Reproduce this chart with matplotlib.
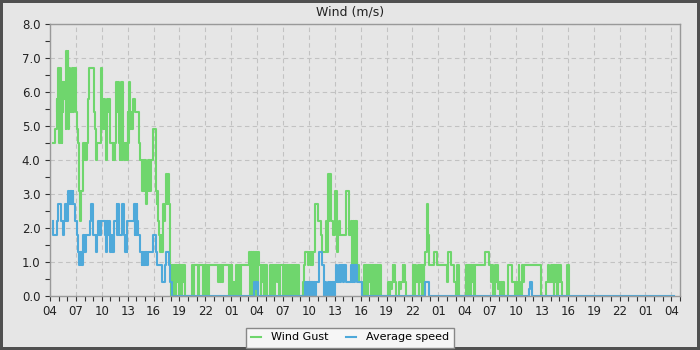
import matplotlib
matplotlib.use("Agg")
import matplotlib.pyplot as plt
from matplotlib.ticker import MultipleLocator, FixedLocator, FormatStrFormatter

# hours since 04:00 on day one, value in m/s (step changes)
gust_day1 = [
    (0.39, 4.5), (0.62, 4.9), (0.77, 5.8), (0.85, 5.4), (0.92, 5.8), (0.97, 6.7),
    (1.10, 4.5), (1.15, 6.7), (1.22, 4.5), (1.30, 4.9), (1.36, 4.5), (1.42, 6.3),
    (1.50, 5.4), (1.56, 6.3), (1.64, 5.8), (1.72, 6.3), (1.80, 4.9), (1.86, 7.2),
    (1.96, 6.7), (2.04, 7.2), (2.10, 4.9), (2.18, 6.7), (2.26, 5.4), (2.34, 6.3),
    (2.42, 5.4), (2.50, 6.7), (2.66, 5.4), (2.76, 6.3), (2.82, 6.7), (3.00, 5.8),
    (3.06, 5.4), (3.16, 4.9), (3.28, 4.5), (3.38, 3.1), (3.50, 2.2), (3.58, 3.1),
    (3.86, 4.5), (3.92, 4.0), (3.98, 4.5), (4.06, 4.0), (4.12, 4.5), (4.20, 4.0),
    (4.28, 4.5), (4.36, 4.9), (4.45, 5.8), (4.52, 6.7), (5.10, 5.4), (5.20, 4.9),
    (5.36, 4.0), (5.50, 4.5), (5.86, 5.4), (5.94, 6.7), (6.04, 5.4), (6.10, 5.8),
    (6.18, 4.9), (6.26, 5.8), (6.34, 4.9), (6.42, 5.4), (6.54, 4.0), (6.66, 5.8),
    (6.76, 5.4), (6.86, 5.8), (7.00, 4.5), (7.26, 4.0), (7.34, 4.5), (7.42, 4.0),
    (7.50, 4.5), (7.70, 6.3), (7.82, 5.4), (7.90, 6.3), (7.98, 4.5), (8.06, 4.0),
    (8.12, 4.5), (8.22, 6.3), (8.30, 4.0), (8.38, 6.3), (8.50, 4.5), (8.56, 4.0),
    (8.64, 4.5), (8.72, 4.0), (8.80, 4.5), (8.90, 4.0), (9.00, 5.4), (9.08, 4.5),
    (9.14, 6.3), (9.24, 5.4), (9.32, 4.9), (9.40, 5.4), (9.50, 4.9), (9.60, 5.8),
    (9.90, 5.4), (10.30, 4.5), (10.40, 4.0), (10.66, 3.1), (10.72, 4.0), (10.80, 3.1),
    (10.88, 4.0), (10.96, 3.1), (11.06, 4.0), (11.14, 2.7), (11.28, 3.1), (11.36, 4.0),
    (11.44, 3.1), (11.52, 4.0), (11.62, 3.1), (11.70, 4.0), (11.96, 4.9), (12.27, 3.1),
    (12.36, 2.7), (12.44, 3.1), (12.56, 2.2), (12.64, 1.8), (12.74, 1.3), (12.82, 1.8),
    (12.90, 1.3), (13.08, 2.7), (13.22, 2.2), (13.30, 2.7), (13.46, 3.6), (13.56, 2.7),
    (13.64, 3.6), (13.80, 2.7), (13.92, 0.9),
]

gust_day2 = [
    (14.05, 0.0), (14.15, 0.9), (14.25, 0.0), (14.35, 0.9), (14.45, 0.0), (14.55, 0.9),
    (14.68, 0.4), (14.80, 0.9), (14.95, 0.0), (15.05, 0.9), (15.20, 0.0), (15.30, 0.9),
    (15.45, 0.4), (15.55, 0.9), (15.62, 0.0), (16.42, 0.9), (16.55, 0.0), (16.65, 0.9),
    (17.19, 0.0), (17.30, 0.9), (17.77, 0.0), (17.85, 0.9), (17.96, 0.0), (18.06, 0.9),
    (18.16, 0.0), (18.26, 0.9), (18.36, 0.0), (18.46, 0.9), (19.50, 0.4), (19.60, 0.9),
    (19.70, 0.4), (19.80, 0.9), (19.90, 0.4), (20.00, 0.9), (20.78, 0.0), (20.88, 0.9),
    (20.96, 0.0), (21.06, 0.9), (21.14, 0.2), (21.24, 0.4), (21.34, 0.0), (21.44, 0.4),
    (21.54, 0.9), (21.64, 0.0), (21.74, 0.9), (21.84, 0.4), (21.94, 0.9), (22.04, 0.0),
    (22.12, 0.9), (23.10, 1.3), (23.20, 0.0), (23.30, 1.3), (23.40, 0.0), (23.50, 1.3),
    (23.60, 0.4), (23.70, 1.3), (23.80, 0.0), (23.90, 1.3), (24.00, 0.0), (24.10, 1.3),
    (24.20, 0.9), (24.40, 0.0), (24.50, 0.9), (24.60, 0.4), (24.70, 0.9), (24.85, 0.0),
    (24.95, 0.9), (25.20, 0.0), (25.50, 0.9), (25.60, 0.0), (25.70, 0.9), (25.80, 0.2),
    (25.90, 0.9), (26.00, 0.0), (26.10, 0.9), (26.30, 0.4), (26.40, 0.9), (26.55, 0.0),
    (26.65, 0.9), (27.00, 0.0), (27.10, 0.9), (27.40, 0.0), (27.50, 0.9), (27.60, 0.0),
    (27.70, 0.9), (27.80, 0.0), (27.90, 0.9), (28.00, 0.0), (28.10, 0.9), (28.20, 0.0),
    (28.30, 0.9), (28.40, 0.0), (28.50, 0.9), (28.60, 0.0), (28.70, 0.9), (28.80, 0.0),
    (29.30, 0.4), (29.45, 0.9), (29.60, 1.3), (29.90, 0.9), (30.00, 1.3), (30.20, 0.9),
    (30.30, 1.3), (30.40, 0.9), (30.50, 1.3), (30.75, 2.7), (31.10, 2.2), (31.40, 1.8),
    (31.52, 1.3), (32.02, 2.2), (32.10, 1.3), (32.20, 3.6), (32.30, 2.2), (32.38, 3.6),
    (32.55, 2.2), (32.75, 1.8), (33.00, 3.1), (33.25, 1.3), (33.35, 1.8), (33.45, 2.2),
    (33.60, 1.8), (34.30, 3.1), (34.60, 1.8), (34.90, 2.2), (35.00, 0.9), (35.10, 2.2),
    (35.25, 0.9), (35.35, 2.2), (35.56, 0.9), (35.80, 0.4), (36.10, 0.0),
]

gust_day3 = [
    (36.40, 0.9), (36.50, 0.0), (36.60, 0.9), (36.75, 0.0), (36.85, 0.9), (37.00, 0.4),
    (37.10, 0.9), (37.20, 0.0), (37.30, 0.9), (37.40, 0.0), (37.50, 0.9), (37.60, 0.0),
    (37.70, 0.9), (37.80, 0.0), (37.90, 0.9), (38.00, 0.0), (38.10, 0.9), (38.30, 0.0),
    (39.20, 0.4), (39.30, 0.0), (39.40, 0.4), (39.50, 0.2), (39.60, 0.4), (39.72, 0.9),
    (39.80, 0.4), (39.90, 0.9), (40.00, 0.4), (40.10, 0.0), (40.49, 0.4), (40.60, 0.2),
    (40.70, 0.4), (40.88, 0.9), (40.95, 0.4), (41.05, 0.9), (41.15, 0.4), (41.27, 0.0),
    (42.04, 0.9), (42.20, 0.0), (42.30, 0.9), (42.42, 0.4), (42.62, 0.9), (42.70, 0.0),
    (42.80, 0.9), (42.90, 0.4), (43.00, 0.9), (43.10, 0.0), (43.20, 0.9), (43.30, 0.4),
    (43.39, 0.9), (43.50, 1.3), (43.66, 2.7), (43.80, 1.8), (43.97, 0.9), (44.55, 1.3),
    (44.86, 0.9), (46.02, 0.4), (46.10, 0.9), (46.17, 1.3), (46.48, 0.9), (46.86, 0.4),
    (47.00, 0.0), (47.17, 0.9), (47.44, 0.0), (48.20, 0.9), (48.30, 0.0), (48.40, 0.9),
    (48.50, 0.2), (48.60, 0.9), (48.70, 0.0), (48.80, 0.9), (48.90, 0.4), (49.00, 0.9),
    (49.10, 0.0), (49.20, 0.9), (50.46, 1.3), (50.85, 0.9), (51.12, 0.4), (51.22, 0.9),
    (51.30, 0.4), (51.38, 0.0), (51.62, 0.9), (51.70, 0.4), (51.80, 0.9), (51.88, 0.2),
    (52.00, 0.4), (52.20, 0.0), (52.30, 0.4), (52.40, 0.0), (52.50, 0.4), (52.65, 0.0),
    (53.04, 0.9), (53.54, 0.4), (53.92, 0.0), (54.00, 0.4), (54.10, 0.0), (54.20, 0.4),
    (54.31, 0.9), (54.40, 0.4), (54.50, 0.0), (54.69, 0.9), (54.80, 0.4), (54.96, 0.9),
    (56.88, 0.0), (57.46, 0.4), (57.65, 0.9), (57.85, 0.4), (58.04, 0.9), (58.15, 0.4),
    (58.25, 0.9), (58.35, 0.0), (58.45, 0.9), (58.55, 0.4), (58.65, 0.9), (58.75, 0.0),
    (58.85, 0.9), (58.95, 0.4), (59.05, 0.9), (59.19, 0.4), (59.38, 0.0), (59.85, 0.9),
    (60.15, 0.0),
]

avg_day1 = [
    (0.31, 2.2), (0.36, 1.8), (0.77, 2.2), (0.97, 2.7), (1.24, 2.2), (1.47, 1.8),
    (1.62, 2.2), (1.74, 2.7), (1.82, 2.2), (1.90, 2.7), (2.00, 2.2), (2.06, 2.7),
    (2.12, 3.1), (2.20, 2.7), (2.28, 3.1), (2.38, 2.7), (2.46, 3.1), (2.56, 2.7),
    (2.62, 3.1), (2.70, 2.7), (2.90, 2.2), (3.09, 1.8), (3.28, 1.3), (3.40, 0.9),
    (3.48, 1.3), (3.56, 0.9), (3.64, 1.3), (3.72, 0.9), (3.80, 1.3), (3.86, 1.8),
    (3.94, 1.3), (4.02, 1.8), (4.10, 1.3), (4.18, 1.8), (4.63, 2.2), (4.75, 2.7),
    (5.02, 1.8), (5.33, 1.3), (5.48, 1.8), (5.60, 2.2), (5.68, 1.8), (5.76, 2.2),
    (5.84, 1.8), (5.92, 2.2), (6.37, 1.8), (6.45, 2.2), (6.53, 1.3), (6.61, 2.2),
    (6.70, 1.8), (6.78, 2.2), (6.95, 1.3), (7.05, 1.8), (7.13, 1.3), (7.25, 1.8),
    (7.33, 1.3), (7.41, 2.2), (7.72, 2.7), (7.80, 1.8), (7.88, 2.7), (7.99, 1.8),
    (8.30, 2.7), (8.57, 1.8), (8.69, 1.3), (8.80, 1.8), (8.88, 1.3), (8.96, 2.2),
    (9.73, 2.7), (9.80, 1.8), (9.88, 2.7), (9.96, 1.8), (10.04, 2.7), (10.12, 2.2),
    (10.23, 1.8), (10.42, 1.3), (10.62, 0.9), (10.70, 1.3), (10.78, 0.9), (10.86, 1.3),
    (10.94, 0.9), (11.02, 1.3), (11.10, 0.9), (11.18, 1.3), (11.26, 0.9), (11.39, 1.3),
    (11.96, 1.8), (12.30, 1.3), (12.36, 0.9), (12.93, 0.4), (13.32, 0.9), (13.44, 1.3),
    (13.74, 0.9), (13.92, 0.4), (14.08, 0.0),
]

avg_rest = [
    (23.64, 0.4), (23.75, 0.2), (23.85, 0.4), (24.10, 0.0), (29.60, 0.4), (29.70, 0.0),
    (29.80, 0.4), (29.95, 0.0), (30.05, 0.4), (30.20, 0.0), (30.30, 0.4), (30.45, 0.0),
    (30.55, 0.4), (30.70, 0.0), (30.80, 0.4), (31.12, 1.3), (31.54, 0.9), (31.70, 0.4),
    (31.80, 0.0), (31.90, 0.4), (32.00, 0.0), (32.20, 0.4), (32.35, 0.0), (32.45, 0.4),
    (32.60, 0.0), (32.70, 0.4), (32.86, 0.0), (33.00, 0.4), (33.17, 0.9), (33.30, 0.4),
    (33.45, 0.9), (33.60, 0.4), (33.75, 0.9), (33.90, 0.4), (34.05, 0.9), (34.32, 0.4),
    (34.90, 0.9), (35.00, 0.4), (35.10, 0.9), (35.25, 0.4), (35.35, 0.9), (35.56, 0.4),
    (36.10, 0.0), (43.50, 0.4), (43.90, 0.0), (55.50, 0.2), (55.60, 0.4), (55.80, 0.0),
    (72.30, 0.0),
]

tick_labels = ['04', '07', '10', '13', '16', '19', '22', '01',
               '04', '07', '10', '13', '16', '19', '22', '01',
               '04', '07', '10', '13', '16', '19', '22', '01', '04']

gust = gust_day1 + gust_day2 + gust_day3
avg = avg_day1 + avg_rest
gust_t = [p[0] for p in gust]
gust_v = [p[1] for p in gust]
avg_t = [p[0] for p in avg]
avg_v = [p[1] for p in avg]

green = '#6fd66d'
blue = '#4ea9da'

fig = plt.figure(figsize=(7, 3.5), dpi=100, facecolor='#e6e6e6',
                 edgecolor='#505050', linewidth=4)
ax = fig.add_axes([50/700, 54/350, 630/700, 272/350])
ax.set_facecolor('#e6e6e6')

ax.step(gust_t, gust_v, where='post', color=green, lw=1.5, label='Wind Gust',
        zorder=3, clip_on=False)
ax.step(avg_t, avg_v, where='post', color=blue, lw=1.5, label='Average speed',
        zorder=4, clip_on=False)

ax.set_xlim(0, 73)
ax.set_ylim(0, 8)
ax.xaxis.set_major_locator(FixedLocator(range(0, 73, 3)))
ax.set_xticklabels(tick_labels)
ax.xaxis.set_minor_locator(MultipleLocator(1))
ax.yaxis.set_major_locator(MultipleLocator(1))
ax.yaxis.set_minor_locator(MultipleLocator(0.5))
ax.yaxis.set_major_formatter(FormatStrFormatter('%.1f'))

ax.grid(True, which='major', color='#c2c2c2', lw=0.8, linestyle=(0, (4, 3)), zorder=1)
ax.set_axisbelow(True)

for s in ax.spines.values():
    s.set_color('#999999')
    s.set_linewidth(1.0)
    s.set_zorder(5)

ax.tick_params(which='both', direction='out', length=3.5, width=0.8, color='#333333',
               labelsize=8.5, labelcolor='#222222', top=False, right=False)
ax.tick_params(axis='x', pad=3)
ax.tick_params(axis='y', pad=3.5)

fig.text(0.5, 1 - 12/350, 'Wind (m/s)', ha='center', va='center', fontsize=9, color='#222222')

leg = fig.legend(loc='center', bbox_to_anchor=(0.5, 1 - 337.5/350), ncol=2, fontsize=8,
                 frameon=True, fancybox=False, edgecolor='#888888', facecolor='#f6f6f6',
                 framealpha=1, handlelength=0.9, handletextpad=0.9, columnspacing=1.6,
                 borderpad=0.45, borderaxespad=0)
leg.get_frame().set_linewidth(1.0)

fig.savefig('out.png', dpi=100, facecolor=fig.get_facecolor(), edgecolor=fig.get_edgecolor())
